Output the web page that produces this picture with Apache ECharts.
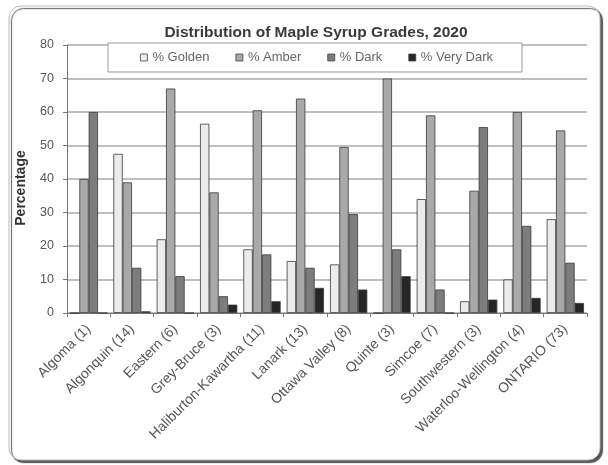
<!DOCTYPE html>
<html>
<head>
<meta charset="utf-8">
<script src="https://cdn.jsdelivr.net/npm/echarts@6/dist/echarts.min.js"></script>
<style>
  html, body { margin: 0; padding: 0; background: #fff; }
  #chart { width: 608px; height: 465px; }
</style>
</head>
<body>
<div id="chart"></div>
<script>
// Regions with number of producers in parentheses
const regions = [
  'Algoma (1)', 'Algonquin (14)', 'Eastern (6)', 'Grey-Bruce (3)',
  'Haliburton-Kawartha (11)', 'Lanark (13)', 'Ottawa Valley (8)', 'Quinte (3)',
  'Simcoe (7)', 'Southwestern (3)', 'Waterloo-Wellington (4)', 'ONTARIO (73)'
];

// Share of each grade (%)
const golden   = [0, 47.5, 22, 56.5, 19, 15.5, 14.5, 0, 34, 3.5, 10, 28];
const amber    = [40, 39, 67, 36, 60.5, 64, 49.5, 70, 59, 36.5, 60, 54.5];
const dark     = [60, 13.5, 11, 5, 17.5, 13.5, 29.5, 19, 7, 55.5, 26, 15];
const veryDark = [0, 0.5, 0, 2.5, 3.5, 7.5, 7, 11, 0, 4, 4.5, 3];

const seriesNames = ['% Golden', '% Amber', '% Dark', '% Very Dark'];
const seriesData = [golden, amber, dark, veryDark];
const seriesColors = ['#ececec', '#a9a9a9', '#7d7d7d', '#262626'];

const yTicks = { min: 0, max: 80, interval: 10 };

const chart = echarts.init(document.getElementById('chart'), null, { renderer: 'canvas' });

const font = 'Liberation Sans, Arial, sans-serif';

chart.setOption({
  backgroundColor: '#fff',
  animation: false,
  title: {
    text: 'Distribution of Maple Syrup Grades, 2020',
    left: 311, top: 20, textAlign: 'center',
    textStyle: { fontFamily: font, fontSize: 15.5, fontWeight: 'bold', color: '#3a3a3a' }
  },
  legend: {
    data: seriesNames,
    left: 108, top: 43,
    padding: [8, 29, 8, 32],
    itemGap: 26,
    itemWidth: 7, itemHeight: 7,
    icon: 'rect',
    backgroundColor: '#fff',
    borderColor: '#999', borderWidth: 1,
    textStyle: { fontFamily: font, fontSize: 13, color: '#666' },
    itemStyle: { borderColor: '#444', borderWidth: 0.8 }
  },
  grid: { left: 67, right: 21, top: 45, bottom: 152, containLabel: false },
  xAxis: {
    type: 'category',
    data: regions,
    axisLine: { lineStyle: { color: '#777', width: 1 } },
    axisTick: { show: true, alignWithLabel: false, length: 4, lineStyle: { color: '#777' } },
    axisLabel: {
      interval: 0, rotate: 45, margin: 14,
      fontFamily: font, fontSize: 14, color: '#555'
    }
  },
  yAxis: {
    type: 'value',
    min: yTicks.min, max: yTicks.max, interval: yTicks.interval,
    axisLine: { show: true, lineStyle: { color: '#777', width: 1 } },
    axisTick: { show: true, length: 4, lineStyle: { color: '#777' } },
    axisLabel: { fontFamily: font, fontSize: 12.5, color: '#555', margin: 13 },
    splitLine: { lineStyle: { color: '#aaa', width: 1.5 } }
  },
  graphic: [
    {
      type: 'rect', z: -10, silent: true,
      shape: { x: 9, y: 6, width: 591, height: 454, r: 12 },
      style: {
        fill: '#fff', stroke: '#bbb', lineWidth: 1,
        shadowColor: '#555', shadowOffsetX: 2.5, shadowOffsetY: 2.5, shadowBlur: 1
      }
    },
    {
      type: 'text', silent: true,
      x: 21, y: 188, rotation: Math.PI / 2,
      style: {
        text: 'Percentage', fontFamily: font, fontSize: 14, fontWeight: 'bold',
        fill: '#333', align: 'center', verticalAlign: 'middle'
      }
    }
  ],
  series: seriesData.map((d, i) => ({
    name: seriesNames[i],
    type: 'bar',
    data: d,
    barGap: '0%',
    barCategoryGap: '14%',
    itemStyle: { color: seriesColors[i], borderColor: '#3a3a3a', borderWidth: 0.8 }
  }))
});
</script>
</body>
</html>
